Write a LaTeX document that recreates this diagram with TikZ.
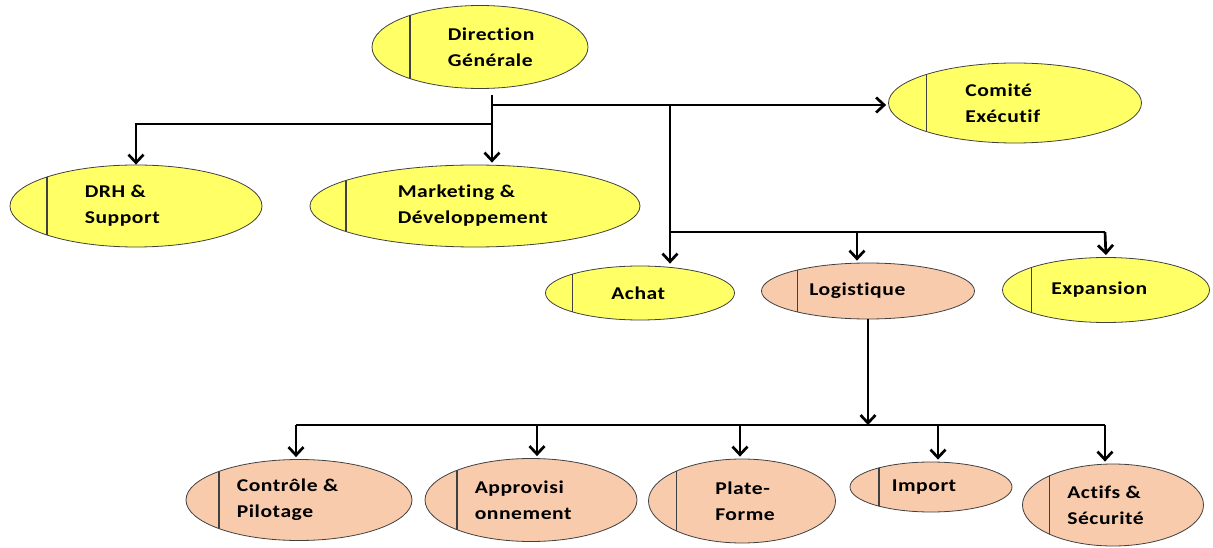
\documentclass[tikz,border=0pt]{standalone}
\usepackage{fontspec}
\setmainfont{Carlito}[FakeStretch=1.2,LetterSpace=3,Ligatures=NoCommon]
\usetikzlibrary{shapes.geometric,arrows.meta,positioning}

\definecolor{jaune}{HTML}{FFFF66}
\definecolor{saumon}{HTML}{F8CBAD}

\tikzset{
  unit/.style={ellipse, draw=black!75, line width=0.8pt, inner sep=0pt},
  bar/.style={path picture={\draw[line width=1.3pt]
      ([xshift=#1]path picture bounding box.south west) --
      ([xshift=#1]path picture bounding box.north west);}},
  lbl/.style={align=left, inner sep=0pt,
      font=\bfseries\fontsize{18}{26}\selectfont},
  arr/.style={-{Straight Barb[length=8pt,width=15pt]}, line width=2.7pt, shorten >=2pt}
}

\begin{document}
\begin{tikzpicture}[x=1pt,y=-1pt]
  \useasboundingbox (0,0) rectangle (1213,548);

  % top level
  \node[unit, fill=jaune, bar=38, minimum width=216, minimum height=83] (dg) at (480,47) {};
  \node[lbl, right=76pt of dg.west] (dgt) {Direction\\Générale};
  \node[unit, fill=jaune, bar=38, minimum width=253, minimum height=80] (ce) at (1015,103) {};
  \node[lbl, right=77pt of ce.west] (cet) {Comité\\Exécutif};

  % second row
  \node[unit, fill=jaune, bar=37, minimum width=252, minimum height=82] (drh) at (136,206) {};
  \node[lbl, right=75pt of drh.west] (drht) {DRH \&\\Support};
  \node[unit, fill=jaune, bar=36, minimum width=330, minimum height=82] (mkt) at (475,206) {};
  \node[lbl, right=88pt of mkt.west] (mktt) {Marketing \&\\Développement};

  % third row
  \node[unit, fill=jaune, bar=27, minimum width=189, minimum height=54] (ach) at (640,293) {};
  \node[lbl, right=66pt of ach.west] (acht) {Achat};
  \node[unit, fill=saumon, bar=36, minimum width=213, minimum height=56] (log) at (868,291) {};
  \node[lbl, right=48pt of log.west] (logt) {Logistique};
  \node[unit, fill=jaune, bar=29, minimum width=207, minimum height=65] (exp) at (1106,290) {};
  \node[lbl, right=49pt of exp.west] (expt) {Expansion};

  % logistique
  \node[unit, fill=saumon, bar=33, minimum width=226, minimum height=81] (cp) at (299,500) {};
  \node[lbl, right=51pt of cp.west] (cpt) {Contrôle \&\\Pilotage};
  \node[unit, fill=saumon, bar=32, minimum width=212, minimum height=83] (ap) at (531,500) {};
  \node[lbl, right=50pt of ap.west] (apt) {Approvisi\\onnement};
  \node[unit, fill=saumon, bar=28, minimum width=187, minimum height=84] (pf) at (742,501) {};
  \node[lbl, right=67pt of pf.west] (pft) {Plate-\\Forme};
  \node[unit, fill=saumon, bar=29, minimum width=162, minimum height=50] (imp) at (931,487) {};
  \node[lbl, right=42pt of imp.west] (impt) {Import};
  \node[unit, fill=saumon, bar=27, minimum width=181, minimum height=82] (as) at (1113,505) {};
  \node[lbl, right=45pt of as.west] (ast) {Actifs \&\\Sécurité};

  % connectors
  \coordinate (dgb) at (492,95);
  \coordinate (hr) at (492,105);
  \coordinate (hl) at (492,124);
  \coordinate (vm) at (670,105);
  \coordinate (hm) at (670,232);
  \coordinate (bus) at (296,425);

  \draw[arr] (dgb) -- (dgb |- mkt.north);
  \draw[arr, shorten >=0pt] (hl) -| (drh.north);
  \draw[arr] (hr) -- (hr -| ce.west);
  \draw[arr] (vm) -- (vm |- ach.north);
  \draw[line width=2.4pt] (hm) -- (1105,232);
  \draw[arr] (857,232) -- (857,0 |- log.north);
  \draw[arr] (1105,232) -- (exp.north);

  \draw[arr, shorten >=0pt] (log.south) -- (log.south |- bus);
  \draw[line width=2.4pt] (bus) -- (1105,425);
  \foreach \n/\x in {cp/296, ap/537, pf/740, imp/938, as/1105}
    \draw[arr] (\x,425) -- (\x,0 |- \n.north);
\end{tikzpicture}
\end{document}
